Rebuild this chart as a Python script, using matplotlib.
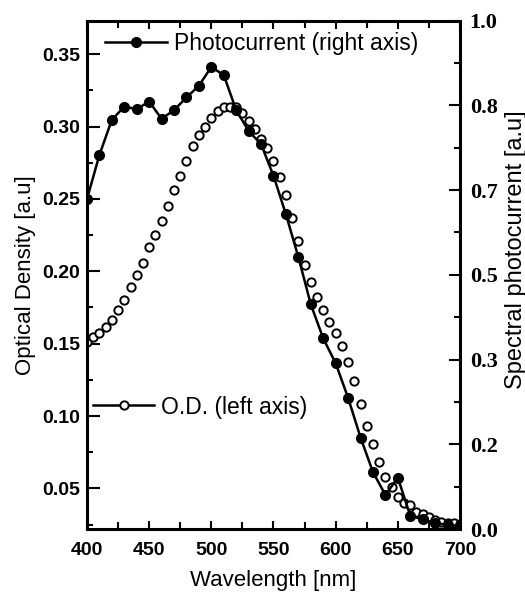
#!/usr/bin/env python3
"""
Optical density and spectral photocurrent versus wavelength.
"""

import matplotlib
matplotlib.use('Agg')
import matplotlib.pyplot as plt
import numpy as np
from matplotlib.ticker import FixedLocator, MultipleLocator, FormatStrFormatter

# Photocurrent (right axis), every 10 nm
pc_wavelength = list(range(400, 701, 10))
pc_values = [0.649, 0.736, 0.805, 0.831, 0.826, 0.841, 0.807, 0.824, 0.849, 0.872,
             0.909, 0.893, 0.824, 0.783, 0.757, 0.695, 0.619, 0.535, 0.442, 0.375,
             0.326, 0.258, 0.180, 0.112, 0.067, 0.101, 0.026, 0.019, 0.012, 0.008,
             0.006]

# Optical density (left axis), every 5 nm
od_wavelength = list(range(400, 701, 5))
od_values = [0.1513, 0.1544, 0.1571, 0.1612, 0.1661, 0.1735, 0.1805, 0.1892, 0.1973, 0.2055,
             0.2166, 0.2250, 0.2349, 0.2451, 0.2564, 0.2661, 0.2765, 0.2868, 0.2942, 0.2999,
             0.3060, 0.3108, 0.3136, 0.3138, 0.3134, 0.3091, 0.3039, 0.2984, 0.2912, 0.2849,
             0.2760, 0.2652, 0.2527, 0.2366, 0.2209, 0.2046, 0.1926, 0.1820, 0.1733, 0.1648,
             0.1571, 0.1485, 0.1375, 0.1240, 0.1081, 0.0933, 0.0806, 0.0680, 0.0580, 0.0511,
             0.0442, 0.0396, 0.0385, 0.0338, 0.0320, 0.0300, 0.0281, 0.0269, 0.0262, 0.0258,
             0.0253]

left_ticks = [0.05, 0.10, 0.15, 0.20, 0.25, 0.30, 0.35]
right_ticks = list(np.linspace(0, 1, 7))
x_ticks = [400, 450, 500, 550, 600, 650, 700]

sans = 'Liberation Sans'
serif = 'Liberation Serif'

fig = plt.figure(figsize=(5.25, 5.93), dpi=100)
ax = fig.add_axes([0.1657, 0.1079, 0.7105, 0.8572])
ax2 = ax.twinx()

# O.D. open circles
od_handle, = ax.plot(od_wavelength, od_values, linestyle='none', marker='o',
                     markersize=6.0, markerfacecolor='white', markeredgecolor='black',
                     markeredgewidth=1.4, label='O.D. (left axis)')

# Photocurrent filled circles with line
pc_handle, = ax2.plot(pc_wavelength, pc_values, color='black', linewidth=1.8,
                      marker='o', markersize=7, markerfacecolor='black',
                      markeredgecolor='black', label='Photocurrent (right axis)')

ax.set_xlim(400, 700)
ax.set_ylim(0.0219, 0.3732)
ax2.set_ylim(0, 1)

ax.set_xticks(x_ticks)
ax.xaxis.set_minor_locator(MultipleLocator(25))
ax.yaxis.set_major_locator(FixedLocator(left_ticks))
ax.yaxis.set_minor_locator(MultipleLocator(0.025))
ax.yaxis.set_major_formatter(FormatStrFormatter('%.2f'))
ax2.yaxis.set_major_locator(FixedLocator(right_ticks))
ax2.yaxis.set_minor_locator(FixedLocator(list(np.linspace(0, 1, 13))))
ax2.yaxis.set_major_formatter(FormatStrFormatter('%.1f'))

ax.tick_params(axis='x', which='both', direction='in', top=True, length=6, width=1.5,
               pad=9)
ax.tick_params(axis='x', which='minor', length=5)
ax.tick_params(axis='y', which='major', direction='in', length=9, width=1.5, pad=5)
ax.tick_params(axis='y', which='minor', direction='in', length=4, width=1.5)
ax2.tick_params(axis='y', which='major', direction='in', length=8, width=1.5, pad=7)
ax2.tick_params(axis='y', which='minor', direction='in', length=4, width=1.5)

for lab in ax.get_xticklabels() + ax.get_yticklabels():
    lab.set_fontfamily(sans)
    lab.set_fontweight('bold')
    lab.set_fontsize(14)
for lab in ax2.get_yticklabels():
    lab.set_fontfamily(serif)
    lab.set_fontweight('bold')
    lab.set_fontsize(16)

for spine in ax2.spines.values():
    spine.set_linewidth(2.2)

ax.set_xlabel('Wavelength [nm]', fontsize=16, fontfamily=sans, labelpad=8)
ax.set_ylabel('Optical Density [a.u]', fontsize=16, fontfamily=sans, labelpad=4)
ax2.set_ylabel('Spectral photocurrent [a.u]', fontsize=17, fontfamily=sans, labelpad=5)
ax2.yaxis.label.set_y(0.55)

leg1 = ax2.legend(handles=[pc_handle], loc='center left', bbox_to_anchor=(0.048, 0.956),
                  frameon=False, handlelength=2.7, handletextpad=0.3, borderpad=0,
                  borderaxespad=0, numpoints=1, prop={'family': sans, 'size': 16.5})
ax2.add_artist(leg1)
ax2.legend(handles=[od_handle], loc='center left', bbox_to_anchor=(0.015, 0.240),
           frameon=False, handlelength=2.7, handletextpad=0.3, borderpad=0,
           borderaxespad=0, numpoints=1, prop={'family': sans, 'size': 16.5})
# give the O.D. legend handle a line like in the original
od_leg_line = ax2.get_legend().legend_handles[0]
od_leg_line.set_linestyle('-')
od_leg_line.set_color('black')
od_leg_line.set_markerfacecolor('white')
od_leg_line.set_linewidth(1.8)

fig.savefig('out.png', dpi=100)
plt.close(fig)
